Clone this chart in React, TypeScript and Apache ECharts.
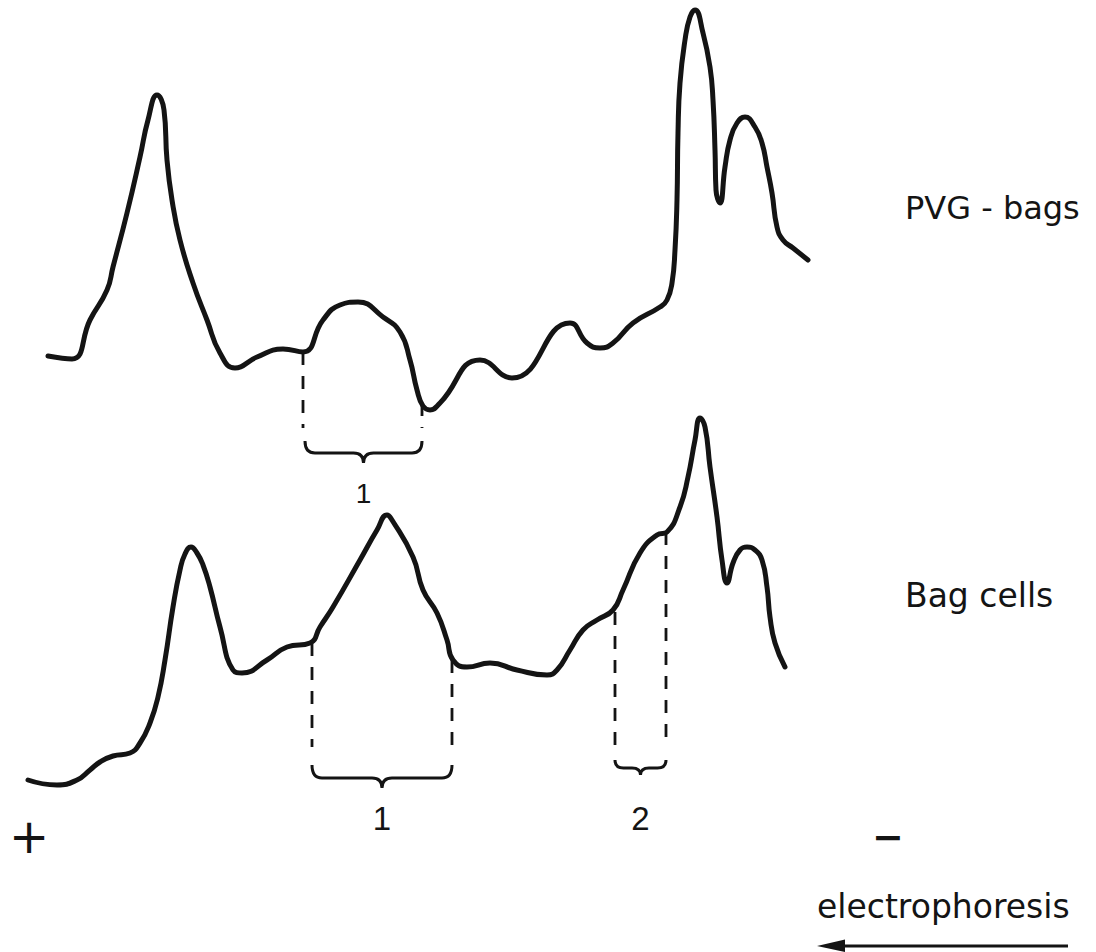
import React, { useEffect, useRef } from "react";
import * as echarts from "echarts";

// Densitometer scans of the two gels: [migration position, optical density]
const pvgBags: [number, number][] = [
  [48, 596], [72, 593], [90, 632], [107, 662], [113, 685], [127, 739], [140, 795],
  [148, 832], [157, 857], [164, 842], [167, 792], [172, 752], [180, 712], [193, 669],
  [207, 632], [220, 599], [235, 584], [257, 595], [283, 603], [303, 600], [323, 632],
  [340, 647], [358, 650], [383, 635], [400, 620], [410, 592], [417, 562], [423, 546],
  [430, 542], [440, 549], [480, 592], [512, 574], [570, 629], [587, 609], [600, 604],
  [613, 609], [633, 629], [660, 645], [667, 652], [672, 669], [675, 702], [677, 752],
  [678, 819], [680, 869], [685, 912], [690, 935], [695, 942], [703, 919], [710, 885],
  [713, 852], [715, 802], [716, 762], [720, 749], [725, 785], [730, 812], [737, 829],
  [745, 835], [755, 825], [762, 809], [767, 785], [772, 759], [777, 725], [783, 712],
  [793, 704], [808, 692],
];

const bagCells: [number, number][] = [
  [28, 172], [57, 167], [77, 172], [90, 182], [100, 190], [113, 196], [130, 199],
  [140, 209], [150, 229], [158, 255], [165, 292], [173, 345], [180, 382], [185, 398],
  [191, 405], [197, 399], [203, 387], [210, 365], [220, 325], [233, 282], [242, 279],
  [267, 292], [287, 305], [310, 309], [320, 325], [333, 345], [360, 392], [377, 422],
  [387, 437], [392, 432], [413, 395], [423, 362], [437, 339], [447, 312], [453, 292],
  [467, 285], [490, 289], [517, 282], [547, 277], [557, 282], [570, 302], [583, 322],
  [597, 332], [613, 342], [623, 362], [640, 399], [657, 417], [667, 420], [680, 445],
  [688, 475], [695, 512], [700, 534], [705, 525], [710, 485], [717, 435], [722, 392],
  [727, 369], [733, 389], [740, 402], [747, 405], [755, 402], [762, 392], [767, 365],
  [770, 335], [775, 309], [785, 285],
];

// Fraction boundaries: [position, density at trace, density at lower end]
const fractionEdges: [number, number, number][] = [
  [303, 600, 524], [422, 549, 524],
  [312, 309, 205], [452, 292, 205],
  [615, 340, 205], [666, 420, 205],
];

// Fraction braces: [from, to, end level, bar level, tip level, label level]
const fractionBraces: [number, number, number, number, number, number][] = [
  [305, 422, 511, 499, 489, 459],
  [312, 452, 187, 174, 164, 134],
  [615, 666, 192, 184, 177, 134],
];
const fractionLabels = ["1", "1", "2"];
const fractionLabelSizes = [28, 33, 33];

const traceNames = ["PVG - bags", "Bag cells"];

const INK = "#141414";

export default function App() {
  const ref = useRef<HTMLDivElement>(null);

  useEffect(() => {
    document.body.style.margin = "0";
    const chart = echarts.init(ref.current!, null, { renderer: "svg" });

    const traceStyle = {
      color: INK,
      width: 5,
      cap: "round" as const,
      join: "round" as const,
    };

    // One dashed segment per fraction boundary, from the trace downwards
    const edgeSeries = fractionEdges.map(([x, top, bottom]) => ({
      type: "line",
      data: [
        [x, top],
        [x, bottom],
      ],
      showSymbol: false,
      silent: true,
      lineStyle: { color: INK, width: 2.8, type: [13, 11], cap: "butt" },
    }));

    chart.setOption({
      animation: false,
      backgroundColor: "#ffffff",
      grid: { left: 0, right: 0, top: 0, bottom: 0 },
      xAxis: { type: "value", min: 0, max: 1096, show: false },
      yAxis: { type: "value", min: 0, max: 952, show: false },
      series: [
        {
          name: traceNames[0],
          type: "line",
          data: pvgBags,
          smooth: 0.5,
          showSymbol: false,
          silent: true,
          lineStyle: traceStyle,
        },
        {
          name: traceNames[1],
          type: "line",
          data: bagCells,
          smooth: 0.5,
          showSymbol: false,
          silent: true,
          lineStyle: traceStyle,
        },
        ...edgeSeries,
        {
          type: "custom",
          silent: true,
          clip: false,
          data: fractionBraces,
          encode: { x: [0, 1], y: [2, 3, 4, 5] },
          renderItem: (params: any, api: any) => {
            const x0v = api.value(0);
            const x1v = api.value(1);
            const [x0, yEnd] = api.coord([x0v, api.value(2)]);
            const [x1] = api.coord([x1v, api.value(2)]);
            const yBar = api.coord([x0v, api.value(3)])[1];
            const yTip = api.coord([x0v, api.value(4)])[1];
            const yLab = api.coord([x0v, api.value(5)])[1];
            const xc = (x0 + x1) / 2;
            const r = Math.min(10, (x1 - x0) / 6);
            const d =
              `M ${x0} ${yEnd} Q ${x0} ${yBar} ${x0 + r} ${yBar} ` +
              `L ${xc - r} ${yBar} Q ${xc} ${yBar} ${xc} ${yTip} ` +
              `M ${xc} ${yTip} Q ${xc} ${yBar} ${xc + r} ${yBar} ` +
              `L ${x1 - r} ${yBar} Q ${x1} ${yBar} ${x1} ${yEnd}`;
            const i = params.dataIndex;
            return {
              type: "group",
              children: [
                {
                  type: "path",
                  shape: { pathData: d },
                  style: { stroke: INK, fill: "none", lineWidth: 3 },
                },
                {
                  type: "text",
                  x: xc,
                  y: yLab,
                  style: {
                    text: fractionLabels[i],
                    fill: INK,
                    font: `${fractionLabelSizes[i]}px "Liberation Sans", sans-serif`,
                    align: "center",
                    verticalAlign: "middle",
                  },
                },
              ],
            };
          },
        },
      ],
      graphic: [
        {
          type: "text",
          left: 905,
          top: 192,
          style: {
            text: traceNames[0],
            fill: INK,
            font: '32px "DejaVu Sans", sans-serif',
          },
        },
        {
          type: "text",
          left: 905,
          top: 579,
          style: {
            text: traceNames[1],
            fill: INK,
            font: '33px "DejaVu Sans", sans-serif',
          },
        },
        {
          type: "text",
          left: 9,
          top: 812,
          style: { text: "+", fill: INK, font: '48px "DejaVu Sans", sans-serif' },
        },
        {
          type: "text",
          left: 872,
          top: 818,
          style: { text: "\u2212", fill: INK, font: 'bold 38px "DejaVu Sans", sans-serif' },
        },
        {
          type: "text",
          left: 817,
          top: 890,
          style: {
            text: "electrophoresis",
            fill: INK,
            font: '33px "DejaVu Sans", sans-serif',
          },
        },
        {
          type: "line",
          shape: { x1: 838, y1: 946, x2: 1068, y2: 946 },
          style: { stroke: INK, lineWidth: 3 },
        },
        {
          type: "polygon",
          shape: { points: [[817, 946], [845, 939.5], [845, 952]] },
          style: { fill: INK },
        },
      ],
    });

    return () => chart.dispose();
  }, []);

  return <div ref={ref} style={{ width: 1096, height: 952, display: "block" }} />;
}
